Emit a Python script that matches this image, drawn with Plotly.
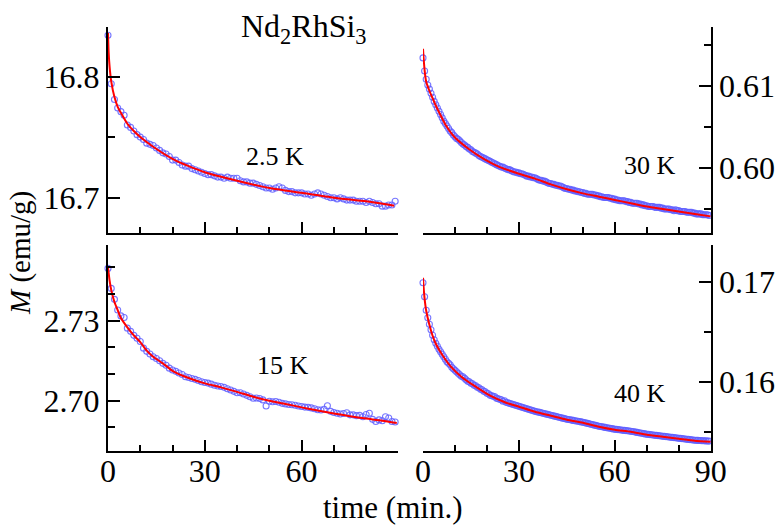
import plotly.graph_objects as go

# ---------------- data ----------------
TIME_MIN = list(range(0, 90))
TIME_HALF = [t + 0.5 for t in range(0, 90)]

# 2.5 K (top-left) measured M (emu/g)
M_2p5K = [16.834, 16.794, 16.781, 16.774, 16.771, 16.768, 16.760, 16.758, 16.755, 16.752,
          16.750, 16.748, 16.745, 16.744, 16.743, 16.741, 16.739, 16.737, 16.736, 16.734,
          16.731, 16.731, 16.729, 16.727, 16.726, 16.726, 16.724, 16.723, 16.722, 16.721,
          16.720, 16.719, 16.719, 16.718, 16.717, 16.717, 16.716, 16.717, 16.716, 16.716,
          16.716, 16.714, 16.713, 16.713, 16.712, 16.712, 16.711, 16.710, 16.709, 16.708,
          16.708, 16.707, 16.708, 16.709, 16.708, 16.706, 16.705, 16.705, 16.704, 16.704,
          16.704, 16.703, 16.703, 16.702, 16.703, 16.704, 16.703, 16.702, 16.701, 16.700,
          16.700, 16.699, 16.700, 16.699, 16.698, 16.698, 16.698, 16.697, 16.697, 16.697,
          16.696, 16.697, 16.696, 16.695, 16.695, 16.693, 16.693, 16.694, 16.694, 16.697]
FIT_T_2p5K = [0, 0.2, 0.5, 1, 2, 3, 4, 6, 8, 10, 14, 20, 25, 30, 40, 50, 60, 70, 80, 88.7]
FIT_M_2p5K = [16.836, 16.820, 16.808, 16.796, 16.783, 16.775, 16.770, 16.761, 16.755, 16.750,
              16.742, 16.732, 16.726, 16.721, 16.714, 16.708, 16.704, 16.700, 16.697, 16.6934]

# 30 K (top-right): readings on whole minutes and on half minutes
M_30K = [0.6134, 0.6108, 0.6096, 0.6086, 0.6077, 0.6069, 0.6061, 0.6054, 0.6048, 0.6043,
         0.6038, 0.6035, 0.6031, 0.6028, 0.6025, 0.6022, 0.6019, 0.6017, 0.6014, 0.6012,
         0.6010, 0.6008, 0.6006, 0.6004, 0.6002, 0.6001, 0.5999, 0.5998, 0.5996, 0.5995,
         0.5994, 0.5993, 0.5991, 0.5990, 0.5989, 0.5988, 0.5986, 0.5985, 0.5984, 0.5982,
         0.5981, 0.5980, 0.5979, 0.5978, 0.5976, 0.5975, 0.5974, 0.5973, 0.5972, 0.5971,
         0.5970, 0.5969, 0.5968, 0.5968, 0.5967, 0.5966, 0.5965, 0.5964, 0.5964, 0.5963,
         0.5962, 0.5961, 0.5960, 0.5960, 0.5959, 0.5958, 0.5957, 0.5957, 0.5956, 0.5955,
         0.5954, 0.5953, 0.5953, 0.5952, 0.5952, 0.5951, 0.5950, 0.5950, 0.5949, 0.5949,
         0.5948, 0.5947, 0.5947, 0.5946, 0.5946, 0.5945, 0.5944, 0.5944, 0.5943, 0.5943]
M_30K_HALF = [0.6118, 0.6101, 0.6091, 0.6081, 0.6073, 0.6065, 0.6057, 0.6051, 0.6045, 0.6040,
              0.6036, 0.6033, 0.6029, 0.6026, 0.6023, 0.6020, 0.6018, 0.6015, 0.6013, 0.6011,
              0.6009, 0.6007, 0.6005, 0.6003, 0.6001, 0.6000, 0.5998, 0.5997, 0.5995, 0.5994,
              0.5993, 0.5992, 0.5990, 0.5989, 0.5988, 0.5987, 0.5985, 0.5984, 0.5983, 0.5981,
              0.5980, 0.5979, 0.5978, 0.5977, 0.5975, 0.5974, 0.5973, 0.5972, 0.5971, 0.5970,
              0.5969, 0.5968, 0.5968, 0.5967, 0.5966, 0.5965, 0.5964, 0.5964, 0.5963, 0.5962,
              0.5961, 0.5960, 0.5960, 0.5959, 0.5958, 0.5957, 0.5957, 0.5956, 0.5955, 0.5954,
              0.5953, 0.5953, 0.5952, 0.5952, 0.5951, 0.5950, 0.5950, 0.5949, 0.5948, 0.5948,
              0.5947, 0.5947, 0.5946, 0.5946, 0.5945, 0.5944, 0.5944, 0.5943, 0.5943, 0.5942]
FIT_T_30K = [0, 0.3, 0.7, 1, 2, 3, 4, 5, 7, 10, 14, 19, 24, 30, 35, 40, 45, 50, 55, 60,
             65, 70, 75, 80, 85, 90]
FIT_M_30K = [0.6145, 0.6128, 0.6112, 0.6105, 0.6094, 0.6085, 0.6076, 0.6068, 0.6053, 0.6037,
             0.6024, 0.6011, 0.6001, 0.5993, 0.5987, 0.5980, 0.5974, 0.5969, 0.5965, 0.5961,
             0.5957, 0.5953, 0.5950, 0.5947, 0.5944, 0.5941]

# 15 K (bottom-left)
M_15K = [2.7496, 2.7421, 2.7380, 2.7340, 2.7318, 2.7312, 2.7272, 2.7260, 2.7245, 2.7234,
         2.7222, 2.7197, 2.7185, 2.7175, 2.7165, 2.7158, 2.7150, 2.7140, 2.7133, 2.7122,
         2.7115, 2.7110, 2.7104, 2.7098, 2.7090, 2.7087, 2.7083, 2.7080, 2.7076, 2.7071,
         2.7068, 2.7066, 2.7062, 2.7058, 2.7055, 2.7053, 2.7050, 2.7045, 2.7040, 2.7035,
         2.7030, 2.7030, 2.7025, 2.7020, 2.7015, 2.7009, 2.7010, 2.7008, 2.7003, 2.6980,
         2.6998, 2.6996, 2.6997, 2.6994, 2.6990, 2.6988, 2.6986, 2.6985, 2.6983, 2.6980,
         2.6978, 2.6976, 2.6975, 2.6973, 2.6970, 2.6966, 2.6965, 2.6968, 2.6981, 2.6960,
         2.6956, 2.6953, 2.6950, 2.6952, 2.6955, 2.6947, 2.6947, 2.6944, 2.6945, 2.6940,
         2.6948, 2.6953, 2.6930, 2.6922, 2.6928, 2.6925, 2.6940, 2.6935, 2.6922, 2.6920]
FIT_T_15K = [0, 0.5, 1, 2, 3, 4, 6, 8, 10, 12, 14, 17, 20, 25, 30, 35, 40, 45, 50, 55,
             60, 65, 70, 75, 80, 85, 89.5]
FIT_M_15K = [2.750, 2.745, 2.7415, 2.737, 2.734, 2.731, 2.7275, 2.7245, 2.722, 2.7188,
             2.7165, 2.714, 2.7112, 2.7085, 2.7065, 2.705, 2.7033, 2.7015, 2.700, 2.6988,
             2.6975, 2.6963, 2.6952, 2.6942, 2.6933, 2.6925, 2.6916]

# 40 K (bottom-right): readings on whole minutes and on half minutes
M_40K = [0.16990, 0.16715, 0.16575, 0.16465, 0.16385, 0.16325, 0.16275, 0.16225, 0.16185, 0.16145,
         0.16115, 0.16085, 0.16055, 0.16035, 0.16005, 0.15985, 0.15965, 0.15945, 0.15925, 0.15905,
         0.15885, 0.15865, 0.15855, 0.15835, 0.15825, 0.15805, 0.15795, 0.15785, 0.15775, 0.15765,
         0.15755, 0.15745, 0.15735, 0.15725, 0.15715, 0.15705, 0.15697, 0.15689, 0.15681, 0.15673,
         0.15665, 0.15657, 0.15649, 0.15641, 0.15633, 0.15625, 0.15619, 0.15613, 0.15607, 0.15601,
         0.15595, 0.15587, 0.15579, 0.15571, 0.15563, 0.15555, 0.15549, 0.15543, 0.15537, 0.15531,
         0.15525, 0.15521, 0.15517, 0.15513, 0.15509, 0.15505, 0.15499, 0.15493, 0.15487, 0.15481,
         0.15475, 0.15471, 0.15467, 0.15463, 0.15459, 0.15455, 0.15451, 0.15447, 0.15443, 0.15439,
         0.15435, 0.15431, 0.15427, 0.15423, 0.15419, 0.15415, 0.15413, 0.15411, 0.15409, 0.15407]
M_40K_HALF = [0.16850, 0.16640, 0.16520, 0.16420, 0.16355, 0.16300, 0.16250, 0.16200, 0.16170, 0.16130,
              0.16100, 0.16070, 0.16050, 0.16020, 0.16000, 0.15980, 0.15960, 0.15940, 0.15920, 0.15900,
              0.15880, 0.15860, 0.15850, 0.15830, 0.15820, 0.15810, 0.15790, 0.15780, 0.15770, 0.15760,
              0.15750, 0.15740, 0.15730, 0.15720, 0.15710, 0.15700, 0.15693, 0.15685, 0.15677, 0.15669,
              0.15661, 0.15653, 0.15645, 0.15637, 0.15629, 0.15622, 0.15616, 0.15610, 0.15604, 0.15598,
              0.15591, 0.15583, 0.15575, 0.15567, 0.15559, 0.15552, 0.15546, 0.15540, 0.15534, 0.15528,
              0.15523, 0.15519, 0.15515, 0.15511, 0.15507, 0.15502, 0.15496, 0.15490, 0.15484, 0.15478,
              0.15473, 0.15469, 0.15465, 0.15461, 0.15457, 0.15453, 0.15449, 0.15445, 0.15441, 0.15437,
              0.15433, 0.15429, 0.15425, 0.15421, 0.15417, 0.15414, 0.15412, 0.15410, 0.15408, 0.15406]
FIT_T_40K = [0, 0.3, 0.6, 1, 2, 3, 4, 6, 9, 12, 16, 21, 26, 30, 35, 40, 45, 50, 55, 60,
             65, 70, 75, 80, 85, 90]
FIT_M_40K = [0.1704, 0.1690, 0.1680, 0.1671, 0.1657, 0.1646, 0.1638, 0.1627, 0.1614, 0.1605,
             0.1596, 0.1586, 0.1579, 0.1575, 0.1570, 0.1566, 0.1562, 0.1559, 0.1555, 0.1552,
             0.1550, 0.1547, 0.1545, 0.1543, 0.1541, 0.1540]

PANEL_LABELS = ["2.5 K", "30 K", "15 K", "40 K"]
X_TICKS = [0, 30, 60, 90]
X_MINOR = [10, 20, 40, 50, 70, 80]

# ---------------- figure ----------------
W, H = 775, 526
SERIF = "Liberation Serif, Times New Roman, serif"
DOT = "rgba(95,95,255,0.85)"
TICK_SIZE = 32

def px(xp):
    return xp / W

def py(yp):
    return 1 - yp / H

fig = go.Figure()

panels = [
    ("x", "y", [(TIME_MIN, M_2p5K)], FIT_T_2p5K, FIT_M_2p5K),
    ("x2", "y2", [(TIME_MIN, M_30K), (TIME_HALF, M_30K_HALF)], FIT_T_30K, FIT_M_30K),
    ("x3", "y3", [(TIME_MIN, M_15K)], FIT_T_15K, FIT_M_15K),
    ("x4", "y4", [(TIME_MIN, M_40K), (TIME_HALF, M_40K_HALF)], FIT_T_40K, FIT_M_40K),
]
for xa, ya, sets, ft, fm in panels:
    for tt, m in sets:
        fig.add_trace(go.Scatter(x=tt, y=m, mode="markers", xaxis=xa, yaxis=ya,
                                 marker=dict(symbol="circle-open", size=6, color=DOT,
                                             line=dict(width=1.1, color=DOT)),
                                 cliponaxis=False, showlegend=False))
    fig.add_trace(go.Scatter(x=ft, y=fm, mode="lines", xaxis=xa, yaxis=ya,
                             line=dict(color="#ff0000", width=2, shape="spline", smoothing=0.6),
                             cliponaxis=False, showlegend=False))

LEFT_DOM = [px(108), px(398.4)]
RIGHT_DOM = [px(423), px(710.7)]
TOP_DOM = [py(233.3), py(26.7)]
BOT_DOM = [py(451), py(245)]

def xaxis(dom, anchor, labels, show_90):
    vals = X_TICKS if show_90 else X_TICKS[:3]
    return dict(domain=dom, anchor=anchor, range=[0, 90], showgrid=False, zeroline=False,
                automargin=False,
                showline=True, linecolor="black", linewidth=2,
                ticks="inside", ticklen=11, tickwidth=2, tickcolor="black",
                tickvals=vals, ticktext=[str(v) for v in vals], showticklabels=labels,
                ticklabelstandoff=-9,
                tickfont=dict(family=SERIF, size=TICK_SIZE, color="black"),
                minor=dict(tickvals=X_MINOR, ticks="inside", ticklen=6, tickwidth=2,
                           tickcolor="black", showgrid=False))

def yaxis(dom, anchor, rng, major, text, minor, side):
    return dict(domain=dom, anchor=anchor, range=rng, side=side, showgrid=False,
                zeroline=False, automargin=False,
                showline=True, linecolor="black", linewidth=2,
                ticks="inside", ticklen=12, tickwidth=2, tickcolor="black",
                tickvals=major, ticktext=text,
                tickfont=dict(family=SERIF, size=TICK_SIZE, color="black"),
                minor=dict(tickvals=minor, ticks="inside", ticklen=7, tickwidth=2,
                           tickcolor="black", showgrid=False))

fig.update_layout(
    width=W, height=H, autosize=False,
    margin=dict(l=0, r=0, t=0, b=0, pad=0),
    paper_bgcolor="white", plot_bgcolor="white",
    font=dict(family=SERIF, color="black"),
    xaxis=xaxis(LEFT_DOM, "y", False, False),
    xaxis2=xaxis(RIGHT_DOM, "y2", False, True),
    xaxis3=xaxis(LEFT_DOM, "y3", True, False),
    xaxis4=xaxis(RIGHT_DOM, "y4", True, True),
    yaxis=yaxis(TOP_DOM, "x", [16.6706, 16.8411], [16.7, 16.8], ["16.7", "16.8"],
                [16.75], "left"),
    yaxis2=yaxis(TOP_DOM, "x2", [0.59204, 0.6172], [0.60, 0.61], ["0.60", "0.61"],
                 [0.595, 0.605, 0.615], "right"),
    yaxis3=yaxis(BOT_DOM, "x3", [2.68114, 2.75838], [2.70, 2.73], ["2.70", "2.73"],
                 [2.69, 2.71, 2.72, 2.74, 2.75], "left"),
    yaxis4=yaxis(BOT_DOM, "x4", [0.15307, 0.17367], [0.16, 0.17], ["0.16", "0.17"],
                 [0.155, 0.165], "right"),
)

ann = [
    dict(text="Nd<sub>2</sub>RhSi<sub>3</sub>", x=px(304), y=py(28), size=32),
    dict(text=PANEL_LABELS[0], x=px(275), y=py(156), size=26),
    dict(text=PANEL_LABELS[1], x=px(650), y=py(165), size=26),
    dict(text=PANEL_LABELS[2], x=px(283), y=py(365), size=26),
    dict(text=PANEL_LABELS[3], x=px(640), y=py(393), size=26),
    dict(text="time (min.)", x=px(392), y=py(507), size=31),
]
for a in ann:
    fig.add_annotation(text=a["text"], x=a["x"], y=a["y"], xref="paper", yref="paper",
                       showarrow=False, xanchor="center", yanchor="middle",
                       font=dict(family=SERIF, size=a["size"], color="black"))
fig.add_annotation(text="<i>M</i> (emu/g)", x=px(21), y=py(253), xref="paper", yref="paper",
                   showarrow=False, textangle=-90, xanchor="center", yanchor="middle",
                   font=dict(family=SERIF, size=29, color="black"))

fig.write_html("out.html")
